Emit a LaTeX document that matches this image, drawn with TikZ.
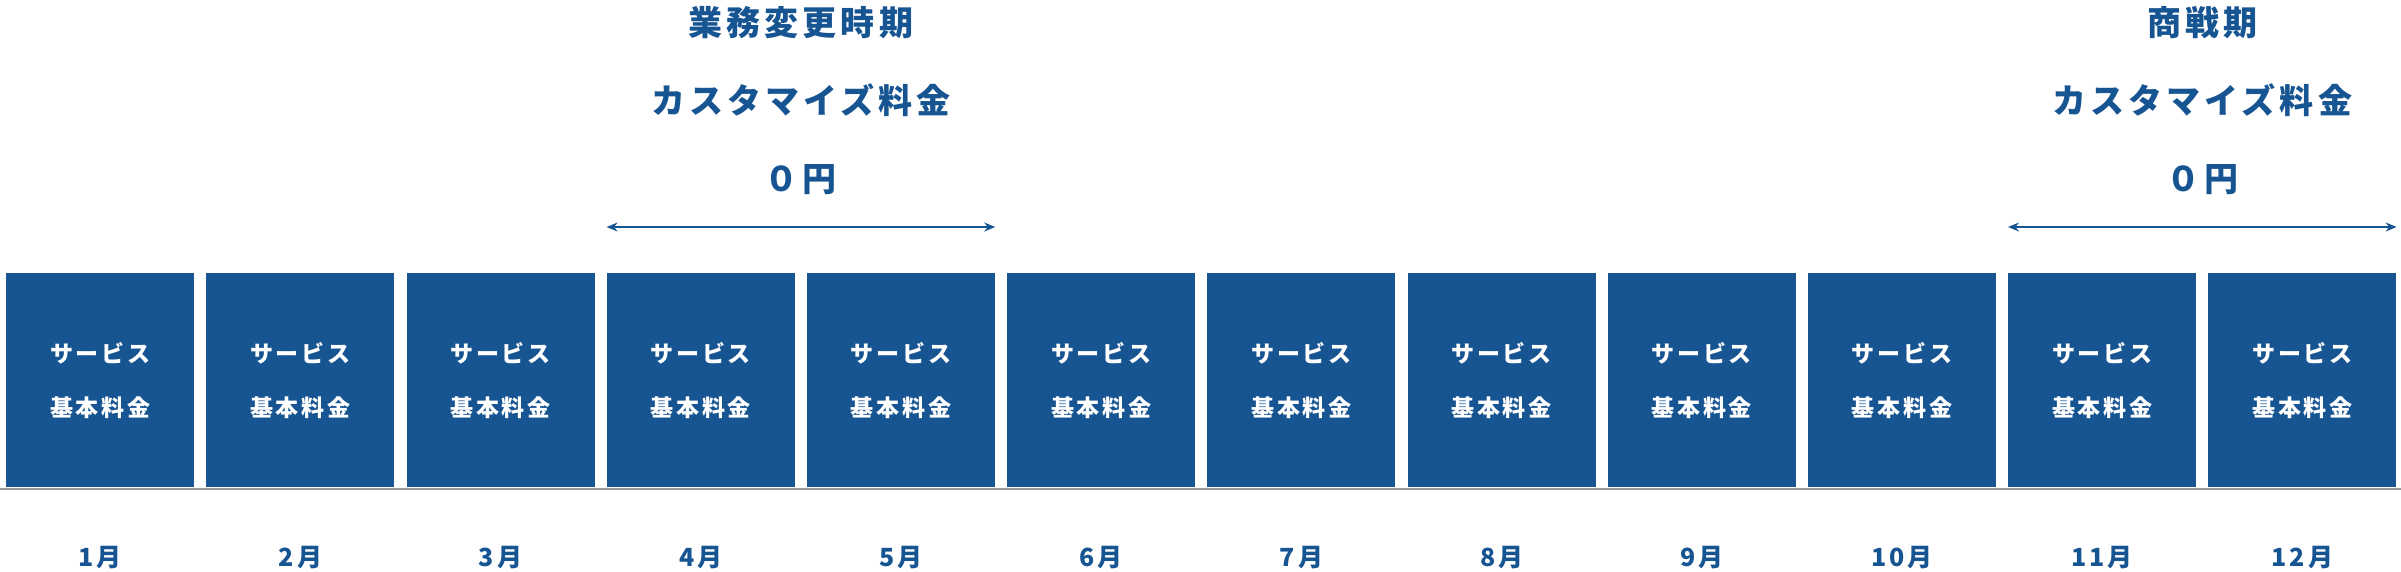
\documentclass[tikz,border=0pt]{standalone}
\usepackage{fontspec}
\setmainfont{Noto Sans CJK JP}[LetterSpace=12]
\usetikzlibrary{arrows.meta,calc}
\definecolor{planblue}{HTML}{175592}
\definecolor{linegray}{HTML}{9A9A9A}

\begin{document}
\begin{tikzpicture}[x=1pt,y=-1pt,
  month/.style={rectangle, fill=planblue, minimum width=188pt, minimum height=214pt,
    anchor=north west, inner sep=0pt, text=white, align=center,
    font=\fontsize{23}{54}\selectfont\bfseries},
  monthlbl/.style={text=planblue, font=\fontsize{25}{30}\selectfont\bfseries},
  period/.style={text=planblue, align=center, font=\fontsize{34}{78}\selectfont\bfseries},
  span/.style={planblue, line width=1.3pt, {Stealth[length=11pt,width=9pt]}-{Stealth[length=11pt,width=9pt]}}]
\useasboundingbox (0,0) rectangle (2401,571);
% Boxes and month labels
\foreach \i in {1,...,12}{
  \node[month] (m\i) at ({6+200.2*(\i-1)},273) {サービス\\基本料金};
  \node[monthlbl] (l\i) at ([yshift=-70pt]m\i.south) {\i 月};
}
% Base line
\draw[linegray, line width=2pt] (0,489) -- (2401,489);
% Periods
\coordinate (a1) at ([yshift=46pt]m4.north west);
\coordinate (b1) at ([yshift=46pt]m5.north east);
\draw[span] (a1) -- (b1);
\node[period] (p1) at ([yshift=172pt]$(m4.north west)!0.5!(m5.north east)$) {業務変更時期\\カスタマイズ料金\\０円};
\coordinate (a2) at ([yshift=46pt]m11.north west);
\coordinate (b2) at ([yshift=46pt]m12.north east);
\draw[span] (a2) -- (b2);
\node[period] (p2) at ([yshift=172pt]$(m11.north west)!0.5!(m12.north east)$) {商戦期\\カスタマイズ料金\\０円};
\end{tikzpicture}
\end{document}
